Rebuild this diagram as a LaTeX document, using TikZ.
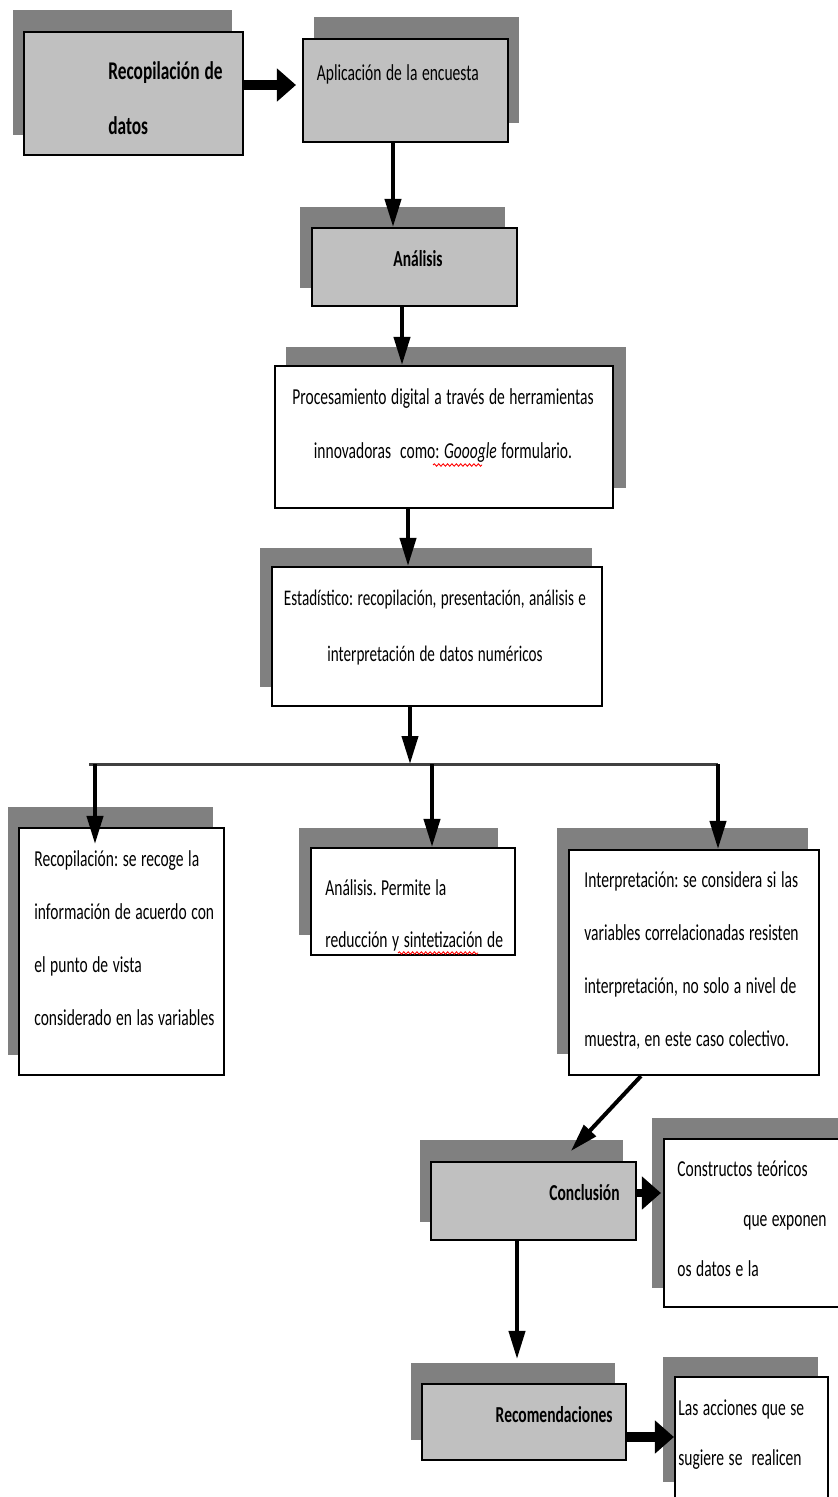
\documentclass[tikz,border=0pt]{standalone}
\usepackage{fontspec}
\setmainfont{Carlito}[FakeStretch=0.68]
\usetikzlibrary{arrows.meta,decorations.pathmorphing}
\definecolor{backgray}{HTML}{808080}
\definecolor{boxgray}{HTML}{C0C0C0}

\begin{document}
\begin{tikzpicture}[x=0.02cm,y=-0.02cm,
    backdrop/.style={fill=backgray},
    box/.style={draw,line width=1.2pt,fill=white,inner sep=0pt},
    graybox/.style={box,fill=boxgray},
    txt/.style={inner sep=0pt,font=\fontsize{13pt}{30pt}\selectfont,
        execute at begin node={\frenchspacing\spaceskip=0.2em\xspaceskip=0.2em\relax}},
    arr/.style={line width=0.08cm,-{Triangle[length=0.56cm,width=0.32cm]}},
    fat/.style={line width=0.2cm,-{Triangle[length=0.38cm,width=0.64cm]}},
    squiggle/.style={red,line width=0.5pt,decorate,decoration={snake,amplitude=0.7pt,segment length=2.5pt}}]
                        \useasboundingbox (0,0) rectangle (838,1497);
                        \clip (0,0) rectangle (838,1497);

                        % shadows
                        \fill[backdrop] (13,10) rectangle (232,135);
                        \fill[backdrop] (314,17) rectangle (519,123);
                        \fill[backdrop] (300,207) rectangle (505,288);
                        \fill[backdrop] (286,347) rectangle (626,488);
                        \fill[backdrop] (260,548) rectangle (592,687);
                        \fill[backdrop] (8,807) rectangle (213,1055);
                        \fill[backdrop] (299,828) rectangle (498,935);
                        \fill[backdrop] (557,828) rectangle (808,1054);
                        \fill[backdrop] (420,1140) rectangle (623,1222);
                        \fill[backdrop] (652,1118) rectangle (860,1288);
                        \fill[backdrop] (411,1363) rectangle (615,1440);
                        \fill[backdrop] (663,1357) rectangle (818,1482);

                        % boxes
                        \node[graybox,minimum width=4.38cm,minimum height=2.46cm] (recop) at (133.5,93.5) {};
                        \node[graybox,minimum width=4.10cm,minimum height=2.06cm] (aplic) at (405.5,90.5) {};
                        \node[graybox,minimum width=4.10cm,minimum height=1.56cm] (anal) at (414.5,267) {};
                        \node[box,minimum width=6.76cm,minimum height=2.84cm] (proc) at (444,437) {};
                        \node[box,minimum width=6.60cm,minimum height=2.78cm] (estad) at (437,636.5) {};
                        \node[box,minimum width=4.10cm,minimum height=4.94cm] (recol) at (121.5,951.5) {};
                        \node[box,minimum width=4.08cm,minimum height=2.14cm] (analp) at (413,901.5) {};
                        \node[box,minimum width=5.00cm,minimum height=4.50cm] (interp) at (694,962.5) {};
                        \node[graybox,minimum width=4.10cm,minimum height=1.56cm] (concl) at (533.5,1201) {};
                        \node[box,minimum width=3.92cm,minimum height=3.36cm] (constr) at (762,1223) {};
                        \node[graybox,minimum width=4.08cm,minimum height=1.52cm] (recom) at (524,1422) {};
                        \node[box,minimum width=3.06cm,minimum height=2.86cm] (acc) at (751.5,1448.5) {};

                        % texts
                        \node[txt,font=\fontsize{14.5pt}{31.3pt}\selectfont\bfseries,anchor=base west,text width=3cm,align=left] (recop-t) at (108,80) {Recopilación de\\datos};
                        \node[txt,anchor=base west] (aplic-t) at (316.5,81) {Aplicación de la encuesta};
                        \node[txt,font=\fontsize{13pt}{30pt}\selectfont\bfseries,anchor=base] (anal-t) at (418,266) {Análisis};
                        \node[txt,font=\fontsize{13pt}{31.3pt}\selectfont,anchor=base,text width=7cm,align=center] (proc-t) at (443,404)
                            {Procesamiento digital a través de herramientas\\innovadoras\ \ como: \textit{Gooogle} formulario.};
                        \node[txt,font=\fontsize{12.7pt}{32.3pt}\selectfont,anchor=base,text width=7cm,align=center] (estad-t) at (435,605)
                            {Estadístico: recopilación, presentación, análisis e\\interpretación de datos numéricos};
                        \node[txt,font=\fontsize{13pt}{30.3pt}\selectfont,anchor=base west,text width=4.5cm,align=left] (recol-t) at (34,866)
                            {Recopilación: se recoge la\\información de acuerdo con\\el punto de vista\\considerado en las variables};
                        \node[txt,font=\fontsize{13pt}{29.8pt}\selectfont,anchor=base west,text width=4.3cm,align=left] (analp-t) at (325,895)
                            {Análisis. Permite la\\reducción y sintetización de};
                        \node[txt,font=\fontsize{13pt}{30.2pt}\selectfont,anchor=base west,text width=5.2cm,align=left] (interp-t) at (584,887)
                            {Interpretación: se considera si las\\variables correlacionadas resisten\\interpretación, no solo a nivel de\\muestra, en este caso colectivo.};
                        \node[txt,font=\fontsize{13pt}{30pt}\selectfont\bfseries,anchor=base east] (concl-t) at (620,1200.7) {Conclusión};
                        \node[txt,font=\fontsize{13pt}{28.7pt}\selectfont,anchor=base west,text width=4cm,align=left] (constr-t) at (677,1176)
                            {Constructos teóricos\\\hspace*{1.32cm}que exponen\\os datos e la};
                        \node[txt,font=\fontsize{13pt}{30pt}\selectfont\bfseries,anchor=base east] (recom-t) at (613,1422) {Recomendaciones};
                        \node[txt,font=\fontsize{13pt}{28.5pt}\selectfont,anchor=base west,text width=4cm,align=left] (acc-t) at (678,1415)
                            {Las acciones que se\\sugiere se\ \ realicen};

                        % spelling marks
                        \draw[squiggle] (433,465) -- (482,465);
                        \draw[squiggle] (398,953) -- (478,953);

                        % connectors
                        \coordinate (a1) at ([yshift=0.17cm]recop.east);
                        \draw[fat] (a1) -- ([xshift=-0.12cm]a1 -| aplic.west);
                        \coordinate (a2) at ([xshift=-0.25cm]aplic.south);
                        \draw[arr] (a2) -- (a2 |- anal.north);
                        \coordinate (a3) at ([xshift=-0.25cm]anal.south);
                        \draw[arr] (a3) -- (a3 |- proc.north);
                        \coordinate (a4) at ([xshift=-0.72cm]proc.south);
                        \draw[arr] (a4) -- (a4 |- estad.north);

                        \coordinate (bar) at (410,764);
                        \coordinate (barL) at (89,764);
                        \coordinate (barR) at (718,764);
                        \draw[arr] (bar |- estad.south) -- (bar);
                        \draw[black!75,line width=0.06cm] (barL) -- (barR);
                        \coordinate (bl) at (95,764);
                        \coordinate (bm) at (432,764);
                        \draw[arr,shorten >=-0.34cm] (bl) -- (bl |- recol.north);
                        \draw[arr] (bm) -- (bm |- analp.north);
                        \draw[arr] (barR) -- (barR |- interp.north);

                        \draw[arr] ([xshift=1.46cm]interp.south west) -- ([xshift=2.82cm,yshift=0.2cm]concl.north west);
                        \coordinate (a9) at ([yshift=0.16cm]concl.east);
                        \draw[fat,line width=0.16cm] (a9) -- ([xshift=-0.04cm]a9 -| constr.west);
                        \coordinate (a10) at ([xshift=-0.33cm]concl.south);
                        \draw[arr,shorten >=0.48cm] (a10) -- (a10 |- recom.north);
                        \coordinate (a11) at ([yshift=-0.3cm]recom.east);
                        \draw[fat] (a11) -- (a11 -| acc.west);
                    \end{tikzpicture}
\end{document}
